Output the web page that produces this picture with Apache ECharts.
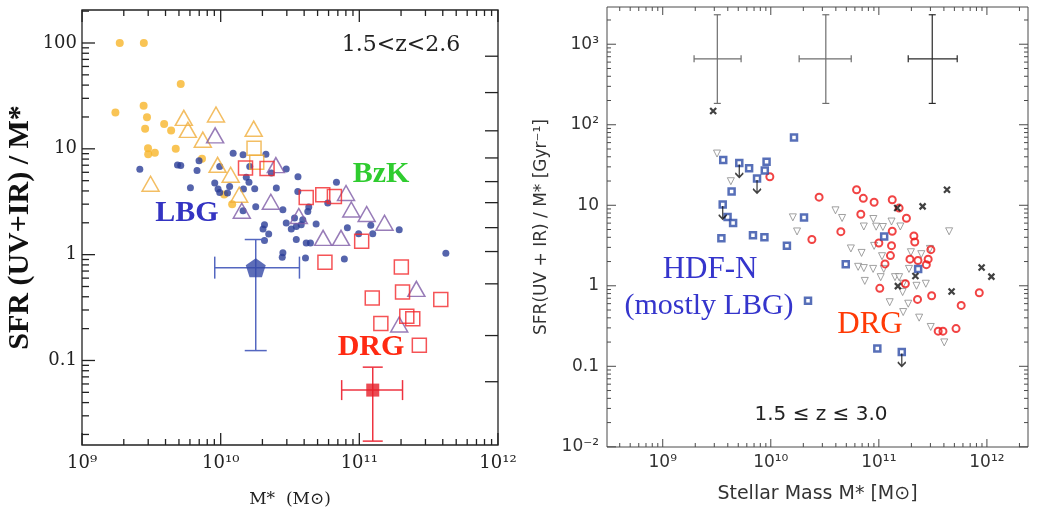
<!DOCTYPE html>
<html>
<head>
<meta charset="utf-8">
<title>SFR / M* versus stellar mass</title>
<script src="https://cdn.jsdelivr.net/npm/echarts@6/dist/echarts.min.js"></script>
<style>
  html, body { margin: 0; padding: 0; background: #fff; }
  #chart { width: 1039px; height: 509px; }
</style>
</head>
<body>
<div id="chart"></div>
<script>
// ---- Left panel (1.5<z<2.6): [M* (Msun), SFR/M*] ----
const bzkDots = [[1.87e9,100],[2.79e9,100],[5.15e9,41],[1.74e9,22],[2.78e9,25.5],[2.94e9,19.9],[2.85e9,15.5],[3.91e9,17.2],
  [4.39e9,14.9],[2.99e9,10.1],[3.0e9,8.9],[3.35e9,9.2],[4.74e9,10],[7.33e9,8.05],[1.06e10,3.7],[1.21e10,3.0]];
const bzkTriangles = [[5.42e9,19.6],[9.25e9,21.1],[5.8e9,15.1],[7.43e9,12.2],[1.73e10,15.5],[3.12e9,4.68],[9.5e9,7.06],
  [1.18e10,5.69],[1.36e10,3.68]];
const bzkSquares = [[1.74e10,10.1],[1.82e10,7.46]];
const lbgDots = [[2.61e9,6.41],[4.88e9,7.02],[5.15e9,6.96],[6.98e9,7.71],[6.75e9,6.24],[6.05e9,4.29],[9.06e9,4.75],[9.57e9,4.17],
  [9.84e9,3.87],[1.16e10,4.41],[1.12e10,3.82],[9.84e9,6.81],[1.23e10,9.1],[1.45e10,8.78],[2.12e10,8.87],[1.53e10,5.38],
  [1.6e10,4.83],[1.76e10,4.2],[1.46e10,4.17],[1.79e10,2.84],[1.45e10,2.6],[1.62e10,6.81],[2.32e10,5.9],[2.97e10,6.43],
  [3.61e10,5.44],[2.52e10,4.26],[6.84e10,4.83],[3.6e10,3.96],[5.92e10,3.07],[4.32e10,2.82],[4.25e10,2.56],[2.81e10,2.66],
  [2.07e10,1.92],[2.02e10,1.75],[2.22e10,1.57],[2.07e10,1.36],[2.97e10,1.99],[3.23e10,1.75],[3.51e10,1.85],[3.81e10,1.92],
  [3.91e10,2.14],[3.51e10,1.39],[3.41e10,2.22],[4.14e10,1.29],[4.44e10,1.29],[4.88e10,1.95],[8.2e10,1.8],[9.89e10,1.58],
  [1.21e11,1.9],[1.25e11,1.58],[1.94e11,1.72],[2.81e10,1.04],[2.78e10,0.947],[4.09e10,0.93],[7.8e10,0.91],[4.21e11,1.03]];
const bzkPassiveTriangles = [[9.12e9,13.4],[1.42e10,2.6],[2.5e10,7.02],[2.3e10,3.16],[8.02e10,3.82],[3.66e10,2.32],[8.75e10,2.67],
  [1.13e11,2.42],[1.52e11,2.0],[5.48e10,1.44],[7.38e10,1.44],[2.58e11,0.475],[1.94e11,0.219]];
const drgSquares = [[1.51e10,6.59],[2.16e10,6.53],[4.14e10,3.47],[5.45e10,3.68],[6.61e10,3.55],[1.04e11,1.34],[5.65e10,0.846],
  [2.01e11,0.766],[1.24e11,0.389],[2.05e11,0.443],[3.87e11,0.376],[2.2e11,0.262],[2.43e11,0.248],[1.43e11,0.223],[2.71e11,0.139]];
// mean points: [M, SFR/M, Mlo, Mhi, lo, hi]
const lbgMean = [1.79e10, 0.754, 9.06e9, 3.7e10, 0.124, 1.39];
const drgMean = [1.25e11, 0.0525, 7.46e10, 2.05e11, 0.0173, 0.0865];

// ---- Right panel (1.5<=z<=3.0): [M* (Msun), SFR/M* (Gyr^-1)] ----
const hdfnSquares = [[1.64e10,69.2],[3.63e9,36.6],[5.11e9,33.6],[6.3e9,28.9],[9.14e9,34.7],[8.8e9,27.0],[7.46e9,21.5],
  [4.34e9,14.8],[3.59e9,10.2],[3.98e9,7.14],[4.48e9,6.02],[3.49e9,3.89],[6.84e9,4.24],[8.73e9,4.01],[2.03e10,7.03],
  [1.41e10,3.15],[1.12e11,4.08],[4.94e10,1.85],[2.31e11,1.62],[2.21e10,0.652],[9.68e10,0.166],[1.63e11,0.151]];
const hdfnUpperLimitIdx = [2, 6, 8, 21];
const drgCircles = [[9.8e9,22.6],[2.8e10,12.6],[6.22e10,15.6],[7.18e10,12.2],[9.04e10,10.9],[1.33e11,11.7],[1.54e11,9.23],
  [6.81e10,7.74],[1.8e11,6.9],[4.45e10,4.7],[2.4e10,3.76],[1.33e11,4.75],[2.11e11,4.16],[2.15e11,3.5],[1.0e11,3.4],
  [1.31e11,3.15],[3.03e11,2.81],[1.28e11,2.37],[1.94e11,2.14],[2.3e11,2.06],[2.86e11,2.14],[2.75e11,1.83],[1.14e11,1.87],
  [1.02e11,0.93],[1.76e11,1.06],[2.28e11,0.677],[3.08e11,0.752],[8.5e11,0.82],[5.78e11,0.571],[3.54e11,0.273],
  [3.92e11,0.273],[5.18e11,0.294]];
const otherTriangles = [[3.18e9,43.9],[4.27e9,19.9],[1.6e10,7.08],[1.75e10,4.73],[3.97e10,8.65],[4.57e10,6.95],[5.51e10,2.91],
  [6.92e10,2.56],[8.89e10,6.75],[7.26e10,5.45],[9.44e10,5.42],[1.09e11,5.37],[1.31e11,6.28],[1.58e11,5.45],[9.04e10,3.13],
  [1.07e11,2.33],[4.47e11,4.75],[6.43e10,1.72],[7.26e10,1.66],[8.85e10,1.62],[7.41e10,1.15],[1.04e11,1.28],[1.41e11,1.28],
  [1.54e11,1.28],[1.9e11,1.62],[2.47e11,2.47],[2.97e11,2.87],[1.98e11,2.61],[1.68e11,1.06],[1.66e11,0.836],[2.23e11,1.0],
  [2.72e11,1.06],[1.26e11,0.625],[1.87e11,0.599],[1.68e11,0.472],[2.36e11,0.402],[3.02e11,0.308],[4.03e11,0.198],[1.11e11,1.62]];
const xCrosses = [[2.93e9,148],[1.48e11,9.23],[2.54e11,9.69],[4.27e11,15.6],[8.93e11,1.69],[1.1e12,1.3],[4.71e11,0.848],
  [2.18e11,1.32],[1.5e11,0.99]];
// typical error crosses: [M, y, Mlo, Mhi, ylo, yhi]
const typicalErrors = [[3.2e9,658,1.95e9,5.31e9,184,2323],[3.23e10,658,1.83e10,5.55e10,184,2323]];
const typicalErrorsDark = [[3.12e11,658,1.87e11,5.31e11,184,2323]];

// ---- tick values and labels ----
const leftXMajor = [1e9, 1e10, 1e11, 1e12];
const leftXLabels = ['10⁹', '10¹⁰', '10¹¹', '10¹²'];
const leftYMajor = [0.1, 1, 10, 100];
const leftYLabels = ['0.1', '1', '10', '100'];
const leftRightTicks = [75, 34, 14.8, 8.2, 4.9, 3.1, 1.8, 1.07, 0.53, 0.172, 0.063];
const rightXMajor = [1e9, 1e10, 1e11, 1e12];
const rightXLabels = ['10⁹', '10¹⁰', '10¹¹', '10¹²'];
const rightYMajor = [0.01, 0.1, 1, 10, 100, 1000];
const rightYLabels = ['10⁻²', '0.1', '1', '10', '10²', '10³'];

const SERIF = '"DejaVu Serif", serif';
const TIMES = '"Liberation Serif", "Times New Roman", serif';
const SANS = '"DejaVu Sans", sans-serif';

// panel rectangles and axis ranges
const L = { left: 82, top: 10, width: 416, height: 435, xmin: 9.99e8, xmax: 1.001e12, ymin: 0.0159, ymax: 205 };
const R = { left: 607, top: 7, width: 421, height: 440, xmin: 3.05e8, xmax: 2.4e12, ymin: 0.00995, ymax: 2900 };

function minorsOf(lo, hi) {
    const out = [];
    for (let e = Math.floor(Math.log10(lo)) - 1; e <= Math.ceil(Math.log10(hi)); e++) {
        for (let m = 2; m <= 9; m++) {
            const v = m * Math.pow(10, e);
            if (v > lo && v < hi) out.push(v);
        }
    }
    return out;
}

function axis(p, grid, pos, lab, name, nameGap, nameStyle) {
    const horizontal = pos === 'bottom' || pos === 'top';
    return {
        type: 'log', logBase: 10, gridIndex: grid, position: pos,
        min: horizontal ? p.xmin : p.ymin, max: horizontal ? p.xmax : p.ymax,
        name, nameLocation: 'middle', nameGap, nameTextStyle: nameStyle,
        axisLine: { show: false },
        axisTick: { show: false },
        axisLabel: {
            show: true, customValues: lab.values.slice(), margin: lab.margin,
            fontFamily: lab.font, fontSize: lab.size, color: lab.color,
            formatter: v => lab.text[lab.values.findIndex(t => Math.abs(Math.log10(t / v)) < 1e-6)]
        },
        splitLine: { show: false }
    };
}

// error bars drawn through the axis scales
function errorBars(cap, width) {
    return function (params, api) {
        const c = api.coord([api.value(0), api.value(1)]);
        const xl = api.coord([api.value(2), api.value(1)])[0];
        const xh = api.coord([api.value(3), api.value(1)])[0];
        const yl = api.coord([api.value(0), api.value(4)])[1];
        const yh = api.coord([api.value(0), api.value(5)])[1];
        const style = { stroke: api.visual('color'), lineWidth: width };
        const seg = (x1, y1, x2, y2) => ({ type: 'line', shape: { x1, y1, x2, y2 }, style });
        return {
            type: 'group',
            children: [
                seg(xl, c[1], xh, c[1]), seg(c[0], yl, c[0], yh),
                seg(xl, c[1] - cap, xl, c[1] + cap), seg(xh, c[1] - cap, xh, c[1] + cap),
                seg(c[0] - cap, yl, c[0] + cap, yl), seg(c[0] - cap, yh, c[0] + cap, yh)
            ]
        };
    };
}

// inward tick marks: each item sits at an interior point of the panel; the axis scale gives
// its position along the axis and the panel's coordinate-system rect gives the edge.
// item = [x, y, side (0 bottom, 1 top, 2 left, 3 right), length]
function tickItems(p, values, side, len) {
    const xMid = Math.sqrt(p.xmin * p.xmax), yMid = Math.sqrt(p.ymin * p.ymax);
    return values.map(v => side < 2 ? [v, yMid, side, len] : [xMid, v, side, len]);
}
function tickSeries(idx, data, color, width) {
    return {
        type: 'custom', xAxisIndex: idx, yAxisIndex: idx, data, silent: true, z: 6,
        itemStyle: { color },
        renderItem: function (params, api) {
            const r = params.coordSys;
            const c = api.coord([api.value(0), api.value(1)]);
            const side = api.value(2), len = api.value(3);
            let s;
            if (side === 0) s = { x1: c[0], y1: r.y + r.height, x2: c[0], y2: r.y + r.height - len };
            else if (side === 1) s = { x1: c[0], y1: r.y, x2: c[0], y2: r.y + len };
            else if (side === 2) s = { x1: r.x, y1: c[1], x2: r.x + len, y2: c[1] };
            else s = { x1: r.x + r.width, y1: c[1], x2: r.x + r.width - len, y2: c[1] };
            return { type: 'line', shape: s, style: { stroke: api.visual('color'), lineWidth: width } };
        }
    };
}

function scatter(data, idx, o) {
    return {
        type: 'scatter', xAxisIndex: idx, yAxisIndex: idx, data,
        symbol: o.symbol || 'circle', symbolSize: o.size, symbolRotate: o.rotate || 0,
        symbolOffset: o.offset || [0, 0],
        itemStyle: o.open
            ? { color: o.fill || 'rgba(255,255,255,0)', borderColor: o.color, borderWidth: o.bw || 1.5 }
            : { color: o.color },
        z: o.z || 2, silent: true
    };
}

const pentagon = 'path://M50,0L97.6,34.5L79.4,90.5L20.6,90.5L2.4,34.5Z';
const xMark = 'path://M0,0L10,10M10,0L0,10';
const arrow = 'path://M5,0L5,14M1,9.5L5,14L9,9.5';

const leftTicks = [].concat(
    tickItems(L, leftXMajor, 0, 12), tickItems(L, minorsOf(L.xmin, L.xmax), 0, 6),
    tickItems(L, leftXMajor, 1, 12), tickItems(L, minorsOf(L.xmin, L.xmax), 1, 6),
    tickItems(L, leftYMajor, 2, 13), tickItems(L, minorsOf(L.ymin, L.ymax), 2, 7),
    tickItems(L, leftRightTicks, 3, 13)
);
const rightTicks = [].concat(
    tickItems(R, rightXMajor, 0, 8), tickItems(R, minorsOf(R.xmin, R.xmax), 0, 4),
    tickItems(R, rightXMajor, 1, 8), tickItems(R, minorsOf(R.xmin, R.xmax), 1, 4),
    tickItems(R, rightYMajor, 2, 9), tickItems(R, minorsOf(R.ymin, R.ymax), 2, 4),
    tickItems(R, rightYMajor, 3, 9), tickItems(R, minorsOf(R.ymin, R.ymax), 3, 4)
);

const lc = '#222', rc = '#4a4a4a';
const series = [
    scatter(bzkDots, 0, { size: 8, color: '#f7b52a' }),
    scatter(lbgDots, 0, { size: 7, color: '#2b3d97' }),
    scatter(bzkTriangles, 0, { symbol: 'triangle', size: [17, 15], open: true, color: '#f0ae3c' }),
    scatter(bzkSquares, 0, { symbol: 'rect', size: 14, open: true, color: '#f0ae3c' }),
    scatter(bzkPassiveTriangles, 0, { symbol: 'triangle', size: [17, 15], open: true, color: '#7e5ba6' }),
    scatter(drgSquares, 0, { symbol: 'rect', size: 14, open: true, color: '#f2282c' }),
    { type: 'custom', xAxisIndex: 0, yAxisIndex: 0, data: [lbgMean], renderItem: errorBars(11, 1.5),
      itemStyle: { color: '#5467c0' }, z: 3, silent: true },
    { type: 'custom', xAxisIndex: 0, yAxisIndex: 0, data: [drgMean], renderItem: errorBars(10, 1.5),
      itemStyle: { color: '#ee3340' }, z: 3, silent: true },
    scatter([lbgMean.slice(0, 2)], 0, { symbol: pentagon, size: [20, 19], color: '#3548a6', z: 4 }),
    scatter([drgMean.slice(0, 2)], 0, { symbol: 'rect', size: 13, color: '#e61e28', z: 4 }),
    tickSeries(0, leftTicks, lc, 1.3),

    { type: 'custom', xAxisIndex: 1, yAxisIndex: 1, data: typicalErrors, renderItem: errorBars(3.5, 1.2),
      itemStyle: { color: '#6e6e6e' }, z: 3, silent: true },
    { type: 'custom', xAxisIndex: 1, yAxisIndex: 1, data: typicalErrorsDark, renderItem: errorBars(3.5, 1.2),
      itemStyle: { color: '#2a2a2a' }, z: 3, silent: true },
    scatter(otherTriangles, 1, { symbol: 'triangle', rotate: 180, size: 7, open: true, fill: '#fff', color: '#8a8a8a', bw: 1 }),
    scatter(drgCircles, 1, { size: 7, open: true, color: '#ee1515', bw: 2 }),
    scatter(hdfnSquares, 1, { symbol: 'rect', size: 6, open: true, fill: '#fff', color: '#2d4ba6', bw: 2.5, z: 3 }),
    scatter(xCrosses, 1, { symbol: xMark, size: 6, open: true, color: '#111', bw: 2.2, z: 3 }),
    scatter(hdfnUpperLimitIdx.map(i => hdfnSquares[i]), 1,
        { symbol: arrow, size: [8, 13], offset: [0, 8], open: true, color: '#111', bw: 1.6, z: 4 }),
    tickSeries(1, rightTicks, rc, 1)
];

function txt(text, x, y, font, color) {
    return { type: 'text', x, y, z: 100, silent: true,
        style: { text, font, fill: color, align: 'center', verticalAlign: 'middle' } };
}

const leftXLab = { values: leftXMajor, text: leftXLabels, font: SERIF, size: 18, color: '#222', margin: 9 };
const leftYLab = { values: leftYMajor, text: leftYLabels, font: SERIF, size: 18, color: '#222', margin: 5 };
const rightXLab = { values: rightXMajor, text: rightXLabels, font: SANS, size: 17, color: '#333', margin: 7 };
const rightYLab = { values: rightYMajor, text: rightYLabels, font: SANS, size: 17, color: '#333', margin: 8 };

const option = {
    animation: false,
    backgroundColor: '#fff',
    grid: [L, R].map((p, i) => ({
        left: p.left, top: p.top, width: p.width, height: p.height,
        outerBoundsMode: 'none', containLabel: false,
        show: true, backgroundColor: 'transparent',
        borderColor: i === 0 ? lc : rc, borderWidth: i === 0 ? 1.3 : 1
    })),
    xAxis: [
        axis(L, 0, 'bottom', leftXLab, 'M*  (M⊙)', 46, { fontFamily: SERIF, fontSize: 17, color: '#222' }),
        axis(R, 1, 'bottom', rightXLab, 'Stellar Mass M* [M⊙]', 38, { fontFamily: SANS, fontSize: 19, color: '#333' })
    ],
    yAxis: [
        axis(L, 0, 'left', leftYLab, 'SFR (UV+IR) / M*', 47,
            { fontFamily: TIMES, fontWeight: 'bold', fontSize: 30, color: '#111' }),
        axis(R, 1, 'left', rightYLab, 'SFR(UV + IR) / M* [Gyr⁻¹]', 57, { fontFamily: SANS, fontSize: 17, color: '#333' })
    ],
    series,
    graphic: [
        txt('1.5<z<2.6', 401, 45, '22px ' + SERIF, '#222'),
        txt('BzK', 381, 174, 'bold 30px ' + TIMES, '#2fcc2f'),
        txt('LBG', 187, 213, 'bold 30px ' + TIMES, '#3434c2'),
        txt('DRG', 371, 347, 'bold 30px ' + TIMES, '#ff2a12'),
        txt('HDF-N', 710, 270, '31px ' + TIMES, '#3535cc'),
        txt('(mostly LBG)', 709, 306, '30px ' + TIMES, '#3535cc'),
        txt('DRG', 870, 325, '31px ' + TIMES, '#ff3a05'),
        txt('1.5 ≤ z ≤ 3.0', 821, 415, '20px ' + SANS, '#222')
    ]
};

const chart = echarts.init(document.getElementById('chart'));
chart.setOption(option);
</script>
</body>
</html>
